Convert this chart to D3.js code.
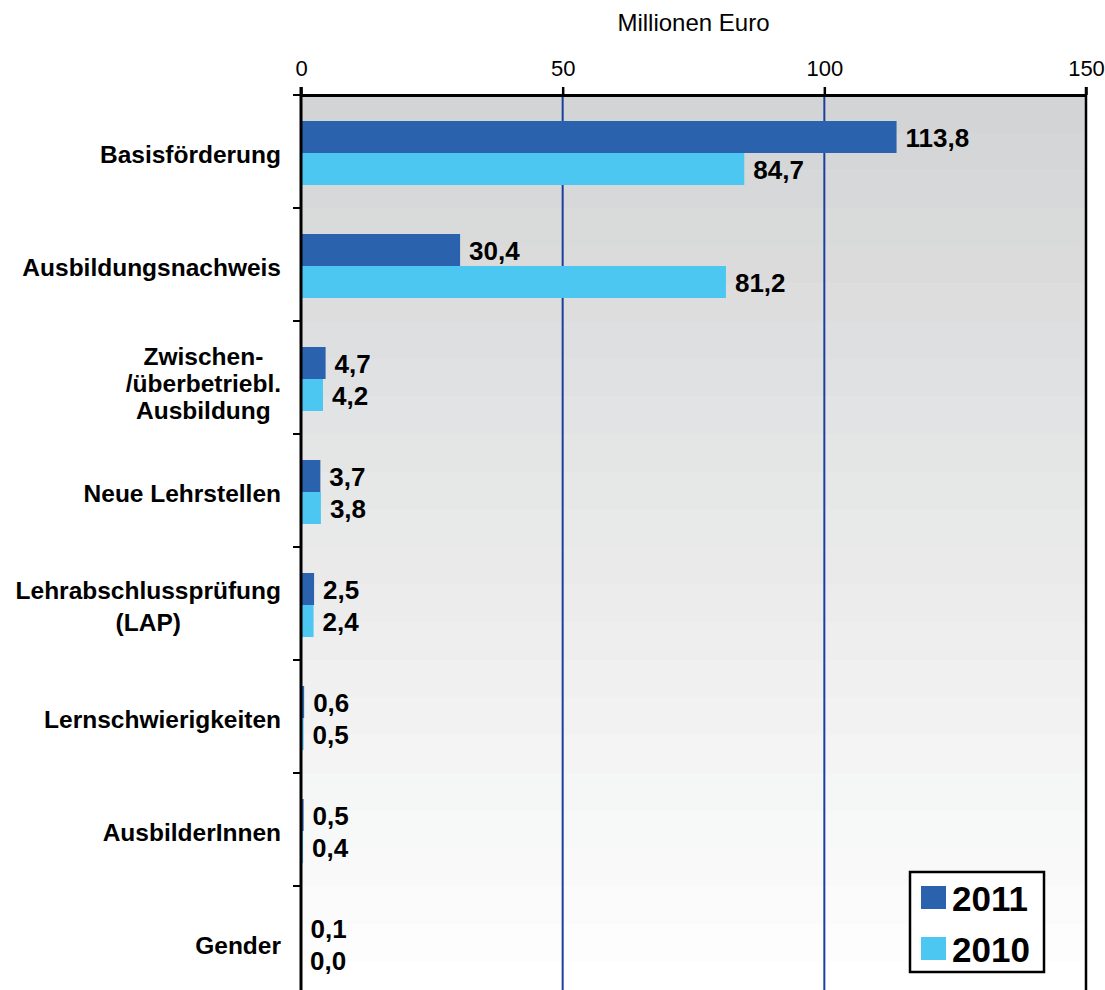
<!DOCTYPE html>
<html>
<head>
<meta charset="utf-8">
<script src="https://cdn.jsdelivr.net/npm/d3@7"></script>
<style>
  body { margin: 0; background: #fff; }
  svg { display: block; font-family: "Liberation Sans", Arial, sans-serif; }
</style>
</head>
<body>
<div id="chart"></div>
<script>
const categories = [
  ["Basisförderung"],
  ["Ausbildungsnachweis"],
  ["Zwischen-", "/überbetriebl.", "Ausbildung"],
  ["Neue Lehrstellen"],
  ["Lehrabschlussprüfung", "(LAP)"],
  ["Lernschwierigkeiten"],
  ["AusbilderInnen"],
  ["Gender"]
]
const values2011 = [113.8, 30.4, 4.7, 3.7, 2.5, 0.6, 0.5, 0.1]
const values2010 = [84.7, 81.2, 4.2, 3.8, 2.4, 0.5, 0.4, 0.0]
const xTicks = [0, 50, 100, 150]
const seriesNames = ["2011", "2010"]
const colors = ["#2b62ae", "#4cc7f1"]

const width = 1105, height = 990
const margin = {top: 95, left: 301, right: 19}
const plotW = width - margin.left - margin.right
const bandH = 113
const plotH = bandH * categories.length

const svg = d3.select('#chart').append('svg')
  .attr('width', width)
  .attr('height', height)

const g = svg.append('g').attr('transform', `translate(${margin.left},${margin.top})`)

const x = d3.scaleLinear().domain([0, 150]).range([0, plotW])
const y = d3.scaleBand().domain(d3.range(categories.length)).range([0, plotH])

// stepped gray background, dark at top fading to white
const steps = 24
const shade = d3.interpolateRgb('#d3d4d5', '#ffffff')
g.selectAll('.bg')
  .data(d3.range(steps))
  .join('rect')
  .attr('x', 0)
  .attr('y', i => i * plotH / steps)
  .attr('width', plotW)
  .attr('height', plotH / steps + 0.5)
  .attr('fill', i => shade(i / (steps - 1)))

// vertical grid lines
g.selectAll('.grid')
  .data(xTicks.slice(1, -1))
  .join('line')
  .attr('x1', d => x(d)).attr('x2', d => x(d))
  .attr('y1', 0).attr('y2', plotH)
  .attr('stroke', '#1c3f9c')
  .attr('stroke-width', 2)

// right border
g.append('line')
  .attr('x1', x(150)).attr('x2', x(150))
  .attr('y1', -8).attr('y2', plotH)
  .attr('stroke', '#000').attr('stroke-width', 2.5)

// bars
const barH = 32
const series = [values2011, values2010]
series.forEach((vals, s) => {
  g.selectAll('.bar' + s)
    .data(vals)
    .join('rect')
    .attr('x', 0)
    .attr('y', (d, i) => y(i) + 26 + s * barH)
    .attr('width', d => x(d))
    .attr('height', barH)
    .attr('fill', colors[s])

  g.selectAll('.val' + s)
    .data(vals)
    .join('text')
    .attr('x', d => x(d) + 9)
    .attr('y', (d, i) => y(i) + 26 + s * barH + barH / 2 + 1)
    .attr('dy', '0.36em')
    .attr('font-size', 26)
    .attr('font-weight', 'bold')
    .attr('fill', '#000')
    .text(d => d.toFixed(1).replace('.', ','))
})

// top axis
const xAxis = d3.axisTop(x).tickValues(xTicks).tickSize(8).tickSizeOuter(0).tickPadding(11)
const gx = g.append('g').call(xAxis)
gx.select('.domain').attr('stroke', '#000').attr('stroke-width', 3)
gx.selectAll('.tick line').attr('stroke', '#000').attr('stroke-width', 2.5)
gx.selectAll('.tick text').attr('font-size', 22).attr('fill', '#000')
  .attr('font-family', '"Liberation Sans", Arial, sans-serif')

// left axis line and ticks at band boundaries
g.append('line')
  .attr('x1', 0).attr('x2', 0).attr('y1', -8).attr('y2', plotH)
  .attr('stroke', '#000').attr('stroke-width', 3)
g.selectAll('.ltick')
  .data(d3.range(categories.length + 1))
  .join('line')
  .attr('x1', -8).attr('x2', 0)
  .attr('y1', i => i * bandH).attr('y2', i => i * bandH)
  .attr('stroke', '#000').attr('stroke-width', 2)

// axis title
svg.append('text')
  .attr('x', margin.left + plotW / 2)
  .attr('y', 31)
  .attr('text-anchor', 'middle')
  .attr('font-size', 24)
  .text('Millionen Euro')

// category labels
categories.forEach((lines, i) => {
  const lineH = lines.length === 2 ? 32 : 27
  const shift = lines.length === 3 ? 6 : 3
  const cy = margin.top + y(i) + y.bandwidth() / 2 + shift
  const t = svg.append('text')
    .attr('font-size', 24.5)
    .attr('font-weight', 'bold')
    .attr('fill', '#000')
  lines.forEach((ln, j) => {
    t.append('tspan')
      .attr('y', cy + (j - (lines.length - 1) / 2) * lineH)
      .attr('dy', '0.36em')
      .text(ln)
  })
  const maxW = d3.max(t.selectAll('tspan').nodes(), n => n.getComputedTextLength())
  const rightX = margin.left - 20
  if (lines.length === 1) {
    t.attr('text-anchor', 'end').selectAll('tspan').attr('x', rightX)
  } else {
    t.attr('text-anchor', 'middle').selectAll('tspan').attr('x', rightX - maxW / 2)
  }
})

// legend
const legend = svg.append('g').attr('transform', 'translate(910,872)')
legend.append('rect')
  .attr('width', 134).attr('height', 100)
  .attr('fill', '#fff').attr('stroke', '#000').attr('stroke-width', 2.5)
seriesNames.forEach((name, i) => {
  legend.append('rect')
    .attr('x', 11).attr('y', 14 + i * 51)
    .attr('width', 25).attr('height', 23)
    .attr('fill', colors[i])
  legend.append('text')
    .attr('x', 42).attr('y', 26 + i * 51)
    .attr('dy', '0.36em')
    .attr('font-size', 35)
    .attr('font-weight', 'bold')
    .text(name)
})
</script>
</body>
</html>
